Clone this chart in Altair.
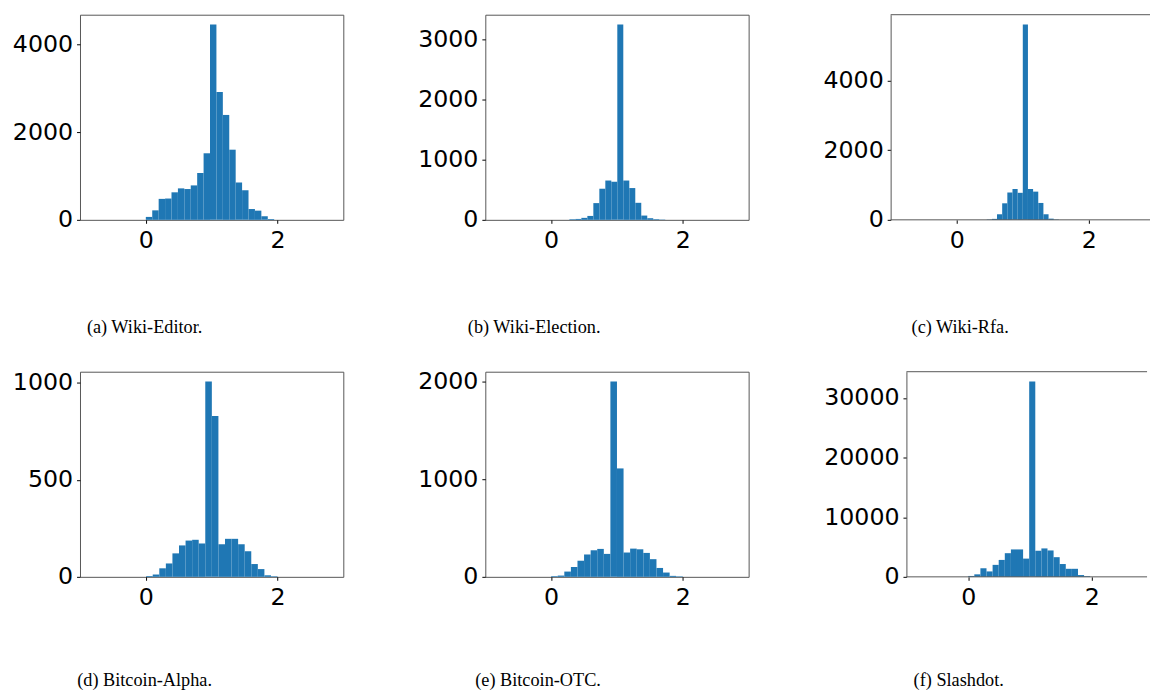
import altair as alt
import pandas as pd

BLUE = "#1f77b4"
SPINE = "#555555"

# ---- data (bin start, bin width, counts) ----
captions = ["(a) Wiki-Editor.", "(b) Wiki-Election.", "(c) Wiki-Rfa.",
            "(d) Bitcoin-Alpha.", "(e) Bitcoin-OTC.", "(f) Slashdot."]

editor_bin = (0.0, 0.0975)
editor_counts = [67, 217, 479, 487, 629, 719, 704, 787, 1071, 1521,
                 4464, 2921, 2397, 1603, 854, 674, 247, 210, 82, 22]
editor_ticks = [0, 2000, 4000]

election_bin = (0.277, 0.091)
election_counts = [10, 15, 33, 65, 278, 517, 653, 631, 3245, 653,
                   528, 283, 71, 27, 11, 5]
election_ticks = [0, 1000, 2000, 3000]

rfa_bin = (0.454, 0.078)
rfa_counts = [10, 28, 160, 475, 785, 885, 776, 5609, 885, 810,
              485, 160, 34, 10]
rfa_ticks = [0, 2000, 4000]

alpha_bin = (0.005, 0.0998)
alpha_counts = [4, 12, 44, 69, 121, 162, 187, 191, 172, 1007,
                829, 168, 196, 196, 168, 132, 66, 40, 8, 3]
alpha_ticks = [0, 500, 1000]

otc_bin = (0.0, 0.1)
otc_counts = [7, 13, 54, 101, 165, 229, 272, 286, 235, 2000,
              1110, 249, 289, 282, 245, 181, 91, 44, 10, 5]
otc_ticks = [0, 1000, 2000]

slash_bin = (0.0, 0.0987)
slash_counts = [150, 420, 1440, 910, 2010, 2840, 3970, 4600, 4600, 3060,
                32780, 4380, 4770, 4430, 3300, 2150, 1350, 1350, 300, 110]
slash_ticks = [0, 10000, 20000, 30000]

x_ticks = [0, 2]
H = 208
CAP_FONT = "Liberation Serif"
CAP_SIZE = 18.5


def panel(counts, binspec, yticks, caption, w, unit, dx, offset, framed=True, shift=0):
    """shift: pixels between the group's left edge and the visible frame."""
    start, step = binspec
    lo = [start + i * step for i in range(len(counts))]
    hi = [v + step for v in lo]
    df = pd.DataFrame({"lo": lo, "hi": hi, "count": counts})
    ymax = max(counts) * 1.05
    xmin = -1 - shift / unit
    xmax = xmin + w / unit
    bars = alt.Chart(df).mark_rect(color=BLUE).encode(
        x=alt.X("lo:Q",
                scale=alt.Scale(domain=[xmin, xmax], nice=False, zero=False),
                axis=alt.Axis(values=x_ticks, title=None, grid=False,
                              domain=False, labelPadding=6, format="d")),
        x2="hi:Q",
        y=alt.Y("count:Q",
                scale=alt.Scale(domain=[0, ymax], nice=False),
                axis=alt.Axis(values=yticks, title=None, grid=False,
                              domain=not framed, offset=-shift,
                              labelPadding=4, format="d")),
        y2=alt.datum(0),
    )
    title = alt.TitleParams(caption, orient="bottom", anchor="middle", frame="group",
                            dx=dx, offset=offset, font=CAP_FONT,
                            fontSize=CAP_SIZE, fontWeight="normal", color="black")
    if framed:
        return bars.properties(width=w, height=H, title=title)
    one = pd.DataFrame({"k": [0]})
    top = alt.Chart(one).mark_rule(color=SPINE, strokeWidth=1).encode(
        x=alt.datum(-1), x2=alt.value(w), y=alt.value(0))
    bottom = alt.Chart(one).mark_rule(color=SPINE, strokeWidth=1).encode(
        x=alt.datum(-1), x2=alt.value(w), y=alt.value(H))
    return alt.layer(bars, top, bottom).properties(
        width=w, height=H, title=title,
        view=alt.ViewBackground(stroke="transparent"))


p1 = panel(editor_counts, editor_bin, editor_ticks, captions[0], 267, 66.75, -68, 66)
p2 = panel(election_counts, election_bin, election_ticks, captions[1], 267, 66.75, -84, 66)
p3 = panel(rfa_counts, rfa_bin, rfa_ticks, captions[2], 263, 67.0, -61, 66, framed=False)
p4 = panel(alpha_counts, alpha_bin, alpha_ticks, captions[3], 267, 66.75, -68, 62)
p5 = panel(otc_counts, otc_bin, otc_ticks, captions[4], 267, 66.75, -80, 62)
p6 = panel(slash_counts, slash_bin, slash_ticks, captions[5], 260, 62.65, -61, 62,
           framed=False, shift=16)

chart = alt.concat(p1, p2, p3, p4, p5, p6, columns=3, bounds="flush",
                   spacing=alt.RowColnumber(row=154, column=144)).properties(
    padding={"left": 3, "top": 1, "right": 0, "bottom": 0}
).configure_axis(
    labelFont="DejaVu Sans", labelFontSize=24, labelColor="black",
    tickColor="black", tickSize=3.5, tickWidth=1,
    domainColor=SPINE, domainWidth=1,
).configure_view(
    stroke=SPINE, strokeWidth=1
)

chart.save("out.html", embed_options={"renderer": "svg", "actions": False})
